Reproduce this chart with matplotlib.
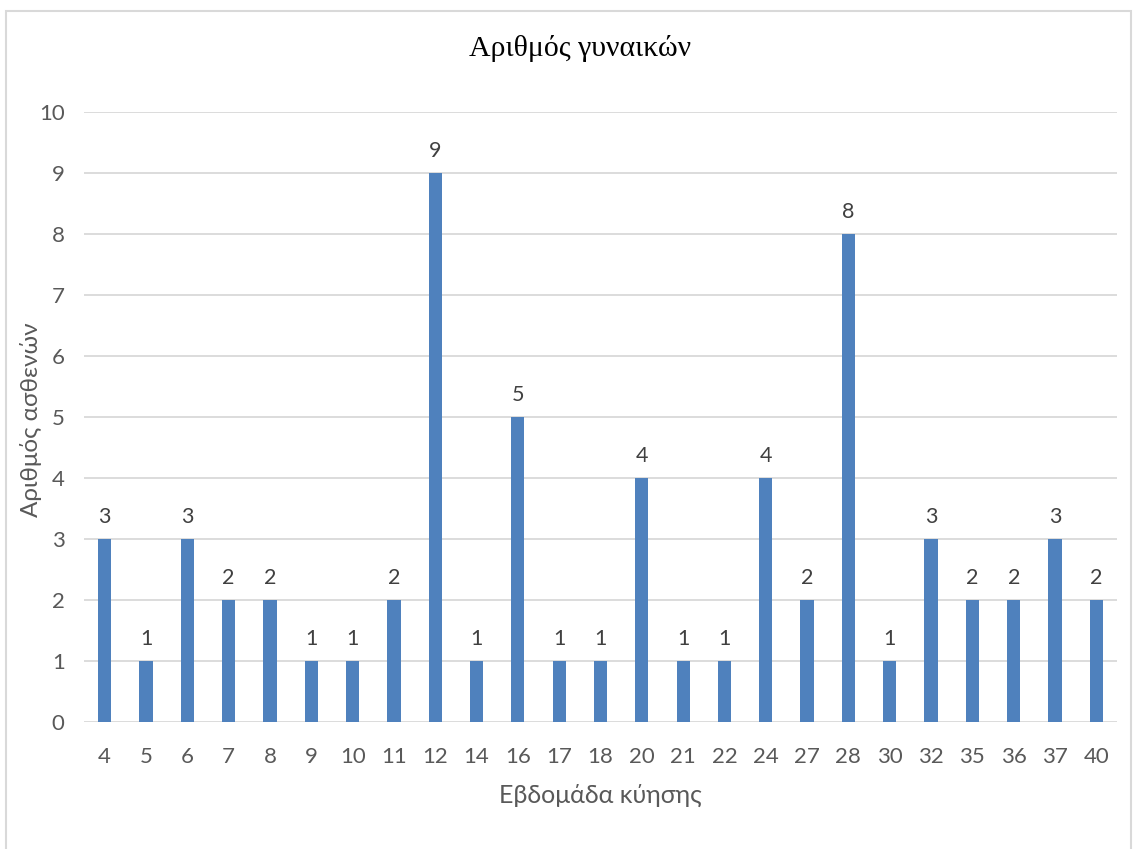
import matplotlib.pyplot as plt
from matplotlib.patches import Rectangle

weeks = ['4', '5', '6', '7', '8', '9', '10', '11', '12', '14', '16', '17', '18',
         '20', '21', '22', '24', '27', '28', '30', '32', '35', '36', '37', '40']
counts = [3, 1, 3, 2, 2, 1, 1, 2, 9, 1, 5, 1, 1, 4, 1, 1, 4, 2, 8, 1, 3, 2, 2, 3, 2]


def draw_weeks():
    plt.rcParams['font.family'] = ['Lato', 'DejaVu Sans']
    fig = plt.figure(figsize=(11.37, 8.49), dpi=100)
    ax = fig.add_axes([0.0739, 0.1496, 0.9085, 0.7184])

    # outer chart frame like in excel
    fig.patches.append(Rectangle((6 / 1137, -0.05), 1125 / 1137, 1.05 - 11 / 849,
                                 transform=fig.transFigure, fill=False,
                                 edgecolor='#D9D9D9', linewidth=1.5))

    x = range(len(weeks))
    bars = ax.bar(x, counts, width=0.32, color='#4F81BD', zorder=3)
    for b, v in zip(bars, counts):
        ax.text(b.get_x() + b.get_width() / 2, v + 0.2, str(v), ha='center', va='bottom',
                fontsize=15.5, color='#404040')

    ax.set_xlim(-0.5, len(weeks) - 0.5)
    ax.set_ylim(0, 10)
    ax.set_yticks(range(0, 11))
    ax.set_xticks(list(x))
    ax.set_xticklabels(weeks)
    ax.tick_params(axis='both', length=0, labelsize=16, labelcolor='#595959')
    ax.tick_params(axis='x', pad=18)
    ax.tick_params(axis='y', pad=14)
    ax.grid(axis='y', color='#D9D9D9', linewidth=1.3, zorder=0)
    for s in ax.spines.values():
        s.set_visible(False)

    ax.set_xlabel('Εβδομάδα κύησης', fontsize=18, color='#595959', labelpad=12)
    fig.text(31 / 1137, 1 - 420 / 849, 'Αριθμός ασθενών', fontsize=17.5, color='#595959',
             rotation=90, ha='center', va='center')
    fig.text(580 / 1137, 1 - 48 / 849, 'Αριθμός γυναικών', fontsize=21.5,
             family='Liberation Serif', color='black', ha='center', va='center')

    fig.savefig('out.png', dpi=100)


if __name__ == '__main__':
    draw_weeks()
